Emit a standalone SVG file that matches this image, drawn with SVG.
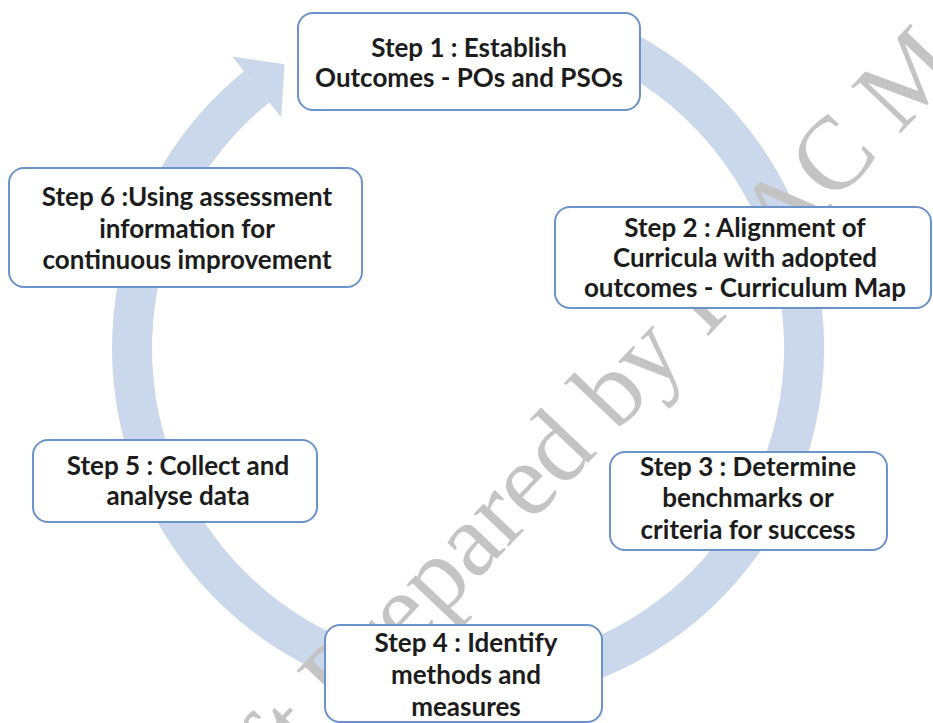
<svg xmlns="http://www.w3.org/2000/svg" width="933" height="723" viewBox="0 0 933 723">
<style>
.box{fill:#ffffff;stroke:#6b93c9;stroke-width:2}
.lbl{font-family:Lato,"Liberation Sans",sans-serif;font-weight:bold;font-size:26px;fill:#1c1c1c;text-anchor:middle}
.wm{font-family:"Liberation Serif","Times New Roman",serif;font-size:104px;fill:#c4c4c4}
.ring{fill:none;stroke:#cbd7eb;stroke-width:40}
.head{fill:#cbd7eb}
</style>
<rect width="933" height="723" fill="#ffffff"/>
<g id="connectors">
<path class="ring" d="M625.7,51.3 A336,336 0 1 1 256.6,86.9"/>
<polygon class="head" points="232.1,56.6 284.6,64.2 281.1,117.2"/>
</g>
<text class="wm" x="-245.5" y="0" transform="translate(344,720) rotate(-46.5)">Draft Prepared by IQAC M</text>
<g id="step1">
<rect class="box" x="298" y="13" width="342" height="97" rx="15"/>
<text class="lbl" x="469" y="57">Step 1 : Establish</text>
<text class="lbl" x="469" y="87">Outcomes - POs and PSOs</text>
</g>
<g id="step2">
<rect class="box" x="555" y="207" width="376" height="101" rx="15"/>
<text class="lbl" x="745" y="237">Step 2 : Alignment of</text>
<text class="lbl" x="745" y="267">Curricula with adopted</text>
<text class="lbl" x="745" y="297">outcomes - Curriculum Map</text>
</g>
<g id="step3">
<rect class="box" x="610" y="452" width="277" height="98" rx="15"/>
<text class="lbl" x="748" y="476">Step 3 : Determine</text>
<text class="lbl" x="748" y="507">benchmarks or</text>
<text class="lbl" x="748" y="539">criteria for success</text>
</g>
<g id="step4">
<rect class="box" x="325" y="625" width="277" height="97" rx="15"/>
<text class="lbl" x="466" y="652">Step 4 : Identify</text>
<text class="lbl" x="466" y="684">methods and</text>
<text class="lbl" x="466" y="716">measures</text>
</g>
<g id="step5">
<rect class="box" x="33" y="440" width="284" height="82" rx="15"/>
<text class="lbl" x="178" y="475">Step 5 : Collect and</text>
<text class="lbl" x="178" y="505">analyse data</text>
</g>
<g id="step6">
<rect class="box" x="9" y="168" width="353" height="119" rx="15"/>
<text class="lbl" x="187" y="206">Step 6 :Using assessment</text>
<text class="lbl" x="187" y="238">information for</text>
<text class="lbl" x="187" y="269">continuous improvement</text>
</g>
</svg>
